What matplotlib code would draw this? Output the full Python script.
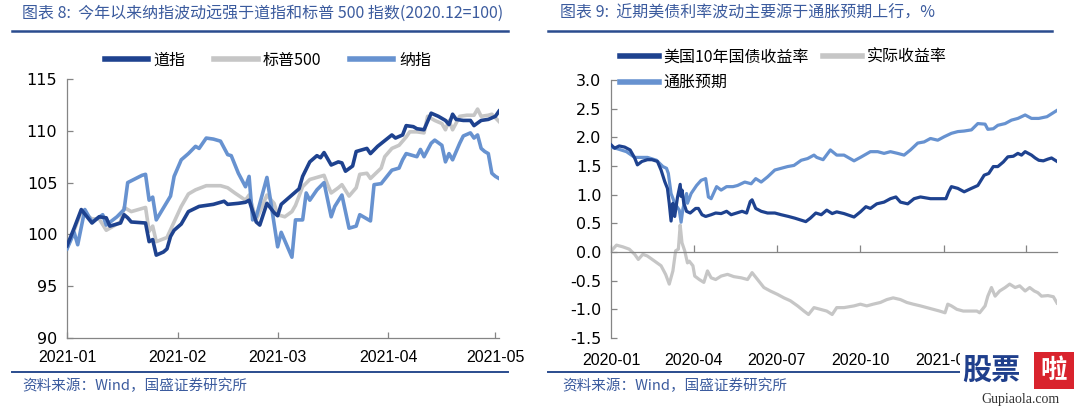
import matplotlib
matplotlib.use("Agg")
import matplotlib.pyplot as plt
import pandas as pd
from matplotlib.lines import Line2D
from matplotlib.patches import Rectangle

plt.rcParams['font.family'] = ['DejaVu Sans', 'Noto Sans CJK SC']
plt.rcParams['axes.unicode_minus'] = False

# ---------------- Left chart data (index, 2020.12 = 100), day offsets from 2021-01-04
eq_base = '2021-01-04'
eq_tick_dates = ['2021-01-04', '2021-02-04', '2021-03-04', '2021-04-04', '2021-05-04']
eq_tick_labels = ['2021-01', '2021-02', '2021-03', '2021-04', '2021-05']
eq_yticks = [90, 95, 100, 105, 110, 115]

dow_days = [0, 2, 4, 7, 9, 11, 12, 15, 16, 17, 18, 22, 23, 24, 25, 27, 28, 29, 30, 32,
            34, 37, 41, 44, 45, 48, 50, 51, 53, 54, 56, 58, 59, 60, 63, 65, 66, 68, 70, 71,
            72, 74, 76, 77, 78, 80, 81, 84, 85, 87, 91, 92, 94, 95, 97, 98, 100, 102, 104, 106,
            107, 108, 109, 111, 113, 114, 116, 118, 120, 121]
dow_vals = [98.9, 100.6, 102.4, 101.1, 101.7, 101.6, 100.8, 101.1, 101.9, 101.6,
            101.2, 101.1, 99.3, 99.5, 98.0, 98.3, 98.6, 99.8, 100.4, 101.0,
            102.2, 102.7, 102.9, 103.2, 102.9, 103.0, 103.1, 103.3, 101.2, 100.9,
            103.0, 102.1, 101.8, 102.9, 103.8, 104.4, 105.6, 107.0, 107.6, 107.4,
            107.9, 106.7, 107.0, 106.9, 106.1, 106.6, 108.0, 108.3, 107.8, 108.5,
            109.6, 109.3, 109.6, 110.5, 110.4, 110.2, 110.1, 111.7, 111.4, 111.0,
            110.6, 111.6, 111.1, 111.0, 111.0, 110.5, 111.0, 111.1, 111.4, 111.9]

spx_days = [0, 2, 4, 7, 9, 11, 13, 15, 16, 18, 20, 22, 23, 24, 25, 28, 30, 32, 34, 36,
            39, 43, 45, 47, 50, 51, 53, 56, 58, 59, 61, 63, 64, 66, 68, 70, 72, 73, 74, 76,
            77, 79, 81, 82, 84, 85, 88, 89, 91, 93, 95, 96, 98, 100, 101, 103, 105, 106, 107, 108,
            110, 112, 114, 115, 116, 118, 119, 121]
spx_vals = [98.7, 100.4, 102.2, 101.5, 101.5, 100.4, 100.8, 101.2, 102.6, 102.2,
            102.4, 102.6, 100.3, 100.8, 99.3, 99.7, 101.2, 102.7, 103.9, 104.3,
            104.7, 104.7, 104.5, 104.0, 103.3, 103.8, 101.4, 103.8, 103.0, 101.9,
            101.7, 102.2, 102.8, 104.6, 105.3, 105.5, 105.7, 104.8, 104.0, 104.5,
            104.8, 103.7, 104.5, 105.8, 105.9, 105.4, 106.4, 107.5, 108.3, 108.6,
            109.4, 109.9, 109.9, 109.8, 111.4, 111.0, 110.7, 110.1, 111.0, 110.1,
            111.4, 111.5, 111.5, 112.1, 111.4, 111.5, 111.6, 110.9]

nas_days = [0, 2, 3, 5, 7, 10, 11, 14, 16, 17, 21, 22, 23, 24, 25, 29, 30, 32, 34, 36,
            37, 39, 41, 43, 45, 46, 48, 50, 51, 52, 53, 56, 57, 59, 60, 63, 64, 66, 67, 68,
            70, 72, 74, 75, 77, 79, 81, 82, 85, 86, 88, 91, 93, 94, 95, 98, 99, 100, 102, 103,
            105, 106, 107, 108, 110, 111, 113, 114, 115, 116, 117, 118, 119, 120, 121]
nas_vals = [98.6, 100.2, 99.0, 102.4, 101.2, 101.9, 100.9, 101.7, 102.4, 105.0,
            105.7, 105.8, 103.3, 103.6, 101.4, 103.7, 105.6, 107.2, 107.8, 108.5,
            108.3, 109.3, 109.2, 109.0, 107.7, 107.6, 105.9, 104.6, 105.6, 101.4,
            101.7, 105.5, 103.3, 98.8, 100.2, 97.8, 101.4, 101.4, 104.0, 103.3,
            104.3, 105.0, 101.7, 102.7, 103.8, 100.6, 100.8, 101.9, 101.3, 104.8,
            104.9, 106.2, 106.4, 107.2, 107.8, 107.5, 108.2, 107.5, 108.8, 109.1,
            108.6, 107.0, 107.8, 107.2, 108.8, 109.5, 109.8, 109.3, 109.6, 108.3,
            108.0, 107.8, 105.9, 105.6, 105.4]

# ---------------- Right chart data (%), day offsets from 2020-01-01
rt_base = '2020-01-01'
rt_tick_dates = ['2020-01-01', '2020-04-01', '2020-07-01', '2020-10-01', '2021-01-01', '2021-04-01']
# the 2021-04 label sits entirely under the source watermark, so it is left blank
rt_tick_labels = ['2020-01', '2020-04', '2020-07', '2020-10', '2021-01', '']
rt_yticks = [-1.5, -1.0, -0.5, 0.0, 0.5, 1.0, 1.5, 2.0, 2.5, 3.0]

ust_days = [0, 4, 9, 15, 21, 26, 29, 34, 40, 45, 51, 55, 59, 62, 64, 66, 68, 70, 73, 76,
            77, 78, 80, 83, 87, 93, 96, 100, 104, 110, 115, 121, 127, 132, 138, 144, 149, 153, 155, 159,
            165, 172, 180, 187, 195, 202, 208, 214, 219, 225, 231, 237, 243, 248, 256, 267, 274, 280, 285, 292,
            300, 307, 313, 318, 326, 333, 340, 351, 359, 368, 371, 374, 381, 388, 396, 403, 410, 415, 420, 425,
            431, 436, 442, 447, 451, 455, 462, 466, 470, 475, 480, 484, 487, 490]
ust_vals = [1.87, 1.81, 1.85, 1.83, 1.78, 1.64, 1.52, 1.58, 1.61, 1.61,
            1.58, 1.43, 1.23, 1.11, 0.85, 0.54, 0.85, 0.62, 0.95, 1.18,
            0.97, 1.08, 0.85, 0.71, 0.68, 0.76, 0.76, 0.65, 0.62, 0.65,
            0.68, 0.67, 0.71, 0.65, 0.68, 0.71, 0.68, 0.88, 0.91, 0.76,
            0.71, 0.68, 0.68, 0.65, 0.62, 0.59, 0.56, 0.53, 0.59, 0.68,
            0.65, 0.73, 0.67, 0.70, 0.67, 0.61, 0.70, 0.79, 0.76, 0.84,
            0.87, 0.93, 0.96, 0.87, 0.84, 0.93, 0.96, 0.93, 0.93, 0.93,
            1.05, 1.14, 1.11, 1.05, 1.11, 1.16, 1.34, 1.37, 1.49, 1.49,
            1.57, 1.66, 1.67, 1.72, 1.69, 1.75, 1.69, 1.64, 1.60, 1.59,
            1.62, 1.64, 1.61, 1.58]

real_days = [1, 6, 13, 20, 26, 30, 35, 40, 48, 55, 60, 64, 68, 71, 74, 76, 78, 81, 84, 86,
             90, 92, 97, 102, 106, 110, 115, 121, 128, 135, 143, 150, 155, 161, 168, 175, 183, 190, 197, 205,
             212, 217, 223, 230, 237, 243, 248, 256, 267, 274, 281, 288, 296, 303, 310, 318, 325, 332, 340, 347,
             354, 361, 367, 370, 374, 380, 387, 394, 402, 405, 411, 414, 418, 422, 427, 433, 438, 444, 449, 455,
             460, 465, 469, 473, 480, 486, 490]
real_vals = [0.03, 0.12, 0.09, 0.05, -0.04, -0.13, -0.04, -0.07, -0.16, -0.24,
             -0.39, -0.56, -0.33, 0.02, 0.05, 0.47, 0.16, 0.02, -0.19, -0.16,
             -0.24, -0.42, -0.48, -0.53, -0.33, -0.45, -0.48, -0.42, -0.39, -0.43,
             -0.45, -0.48, -0.36, -0.48, -0.62, -0.68, -0.74, -0.80, -0.85, -0.94,
             -1.03, -1.09, -0.97, -1.00, -1.03, -1.09, -0.97, -0.97, -0.94, -0.91,
             -0.94, -0.91, -0.88, -0.83, -0.80, -0.83, -0.88, -0.91, -0.94, -0.97,
             -1.00, -1.03, -1.06, -0.91, -0.94, -1.00, -1.03, -1.03, -1.03, -1.06,
             -0.94, -0.77, -0.62, -0.77, -0.68, -0.62, -0.56, -0.62, -0.59, -0.68,
             -0.62, -0.68, -0.71, -0.77, -0.76, -0.78, -0.89]

bei_days = [0, 7, 17, 26, 31, 40, 50, 57, 61, 63, 66, 70, 75, 77, 79, 81, 83, 84, 88, 94,
            99, 104, 107, 110, 116, 121, 127, 134, 139, 147, 154, 159, 165, 172, 180, 187, 194, 201, 209, 216,
            223, 226, 233, 241, 248, 256, 267, 274, 285, 293, 300, 307, 315, 322, 329, 337, 344, 351, 359, 366,
            374, 381, 388, 396, 403, 411, 414, 420, 425, 433, 440, 447, 455, 462, 470, 479, 486, 490]
bei_vals = [1.83, 1.80, 1.75, 1.65, 1.65, 1.65, 1.60, 1.49, 1.46, 1.37,
            1.02, 0.85, 0.73, 0.52, 0.75, 0.90, 1.02, 0.85, 1.02, 1.16,
            1.25, 1.28, 0.96, 0.93, 1.14, 1.08, 1.14, 1.14, 1.16, 1.22,
            1.19, 1.28, 1.22, 1.31, 1.43, 1.46, 1.49, 1.51, 1.60, 1.63,
            1.69, 1.65, 1.61, 1.78, 1.69, 1.69, 1.59, 1.65, 1.75, 1.75,
            1.72, 1.75, 1.72, 1.69, 1.78, 1.90, 1.92, 1.98, 1.95, 2.01,
            2.07, 2.10, 2.11, 2.13, 2.24, 2.23, 2.14, 2.15, 2.21, 2.24,
            2.30, 2.33, 2.39, 2.33, 2.33, 2.36, 2.43, 2.47]

# ---------------- styling
C_DARK = '#1E428F'
C_GRAY = '#C6C6C6'
C_MID = '#6792D0'
C_TITLE = '#3B5B9E'
C_RULE = '#2A4C8E'
C_AX = '#858585'
W, H = 1080, 409
XFONT = ['Liberation Sans', 'DejaVu Sans']
cjk = ['Noto Sans CJK SC', 'DejaVu Sans']

fig = plt.figure(figsize=(W / 100, H / 100), dpi=100)


def fx(px):
    return px / W


def fy(py):
    return 1 - py / H


def day_offsets(dates, base):
    b = pd.Timestamp(base)
    return [(pd.Timestamp(d) - b).days for d in dates]


# ---------------- Left axes
axL = fig.add_axes([fx(67), fy(338), fx(499) - fx(67), fy(79) - fy(338)])
axL.plot(spx_days, spx_vals, color=C_GRAY, lw=2.6, zorder=2)
axL.plot(nas_days, nas_vals, color=C_MID, lw=2.6, zorder=3)
axL.plot(dow_days, dow_vals, color=C_DARK, lw=2.6, zorder=4)
axL.set_xlim(0, 121)
axL.set_ylim(90, 115)
axL.set_yticks(eq_yticks)
axL.set_yticklabels([str(v) for v in eq_yticks])
axL.set_xticks(day_offsets(eq_tick_dates, eq_base))
axL.set_xticklabels(eq_tick_labels, family=XFONT, fontsize=11.5)
for s in ['top', 'right']:
    axL.spines[s].set_visible(False)
for s in ['left', 'bottom']:
    axL.spines[s].set_color(C_AX)
    axL.spines[s].set_linewidth(0.9)
axL.tick_params(axis='both', direction='in', length=4, color=C_AX, width=0.9)
axL.tick_params(axis='x', pad=9)
axL.tick_params(axis='y', labelsize=11.5, pad=7)

# ---------------- Right axes
axR = fig.add_axes([fx(611), fy(338), fx(1057) - fx(611), fy(80) - fy(338)])
axR.plot(real_days, real_vals, color=C_GRAY, lw=2.3, zorder=2)
axR.plot(bei_days, bei_vals, color=C_MID, lw=2.3, zorder=3)
axR.plot(ust_days, ust_vals, color=C_DARK, lw=2.3, zorder=4)
axR.set_xlim(0, 490)
axR.set_ylim(-1.5, 3.0)
axR.set_yticks(rt_yticks)
axR.set_yticklabels([f'{v:.1f}' for v in rt_yticks])
rt_ticks = day_offsets(rt_tick_dates, rt_base)
axR.set_xticks(rt_ticks)
axR.tick_params(axis='x', labelbottom=False, direction='in', length=5, color=C_AX, width=0.9)
axR.spines['bottom'].set_position(('data', 0))
for s in ['top', 'right']:
    axR.spines[s].set_visible(False)
for s in ['left', 'bottom']:
    axR.spines[s].set_color(C_AX)
    axR.spines[s].set_linewidth(0.9)
axR.tick_params(axis='y', direction='in', length=4, color=C_AX, width=0.9, labelsize=11.5, pad=7)
sec = axR.secondary_xaxis(0)
sec.set_xticks(rt_ticks)
sec.set_xticklabels(rt_tick_labels, family=XFONT, fontsize=11.5)
sec.tick_params(length=0, pad=11)
sec.spines['bottom'].set_visible(False)

# ---------------- Legends
legL = [Line2D([], [], color=C_DARK, lw=4), Line2D([], [], color=C_GRAY, lw=4), Line2D([], [], color=C_MID, lw=4)]
fig.legend(legL, ['道指', '标普500', '纳指'], loc='center', bbox_to_anchor=(fx(268), fy(60)),
           ncol=3, frameon=False, handlelength=2.7, columnspacing=1.8,
           handletextpad=0.35, prop={'family': cjk, 'size': 11.5})
legR = [Line2D([], [], color=C_DARK, lw=4), Line2D([], [], color=C_MID, lw=4), Line2D([], [], color=C_GRAY, lw=4)]
fig.legend(legR, ['美国10年国债收益率', '通胀预期', '实际收益率'], loc='upper left',
           bbox_to_anchor=(fx(606), fy(34)), ncol=2, frameon=False, handlelength=2.4,
           columnspacing=0.9, handletextpad=0.3, labelspacing=0.55,
           prop={'family': cjk, 'size': 11.5})

# ---------------- Titles, rules, sources
fig.text(fx(22), fy(13), '图表 8:  今年以来纳指波动远强于道指和标普 500 指数(2020.12=100)',
         family=cjk, fontsize=11.5, color=C_TITLE, style='italic', va='center', ha='left')
fig.text(fx(560), fy(13), '图表 9:  近期美债利率波动主要源于通胀预期上行，%',
         family=cjk, fontsize=11.5, color=C_TITLE, style='italic', va='center', ha='left')
for x0, x1 in [(12, 508), (548, 1052)]:
    fig.add_artist(Line2D([fx(x0), fx(x1)], [fy(31), fy(31)], color=C_RULE, lw=1.8))
    fig.add_artist(Line2D([fx(x0), fx(x1)], [fy(372), fy(372)], color=C_RULE, lw=1.4))
fig.text(fx(22), fy(386), '资料来源：Wind，国盛证券研究所', family=cjk, fontsize=10.5,
         color=C_TITLE, style='italic', va='center', ha='left')
fig.text(fx(562), fy(386), '资料来源：Wind，国盛证券研究所', family=cjk, fontsize=10.5,
         color=C_TITLE, style='italic', va='center', ha='left')

# ---------------- watermark (covers the end of the 2021-01 label, as in the source)
fig.add_artist(Rectangle((fx(960), fy(395)), fx(1078) - fx(960), fy(345) - fy(395),
                         transform=fig.transFigure, facecolor='white', edgecolor='none', zorder=9))
fig.text(fx(962), fy(370), '股票', family=cjk, fontsize=21, fontweight='bold', color='#1F3F8C',
         va='center', ha='left', zorder=10)
fig.add_artist(Rectangle((fx(1034), fy(389)), fx(1074) - fx(1034), fy(352) - fy(389),
                         transform=fig.transFigure, facecolor='#D9232D', edgecolor='none', zorder=10))
fig.text(fx(1054), fy(370), '啦', family=cjk, fontsize=19, fontweight='bold', color='white',
         va='center', ha='center', zorder=11)
fig.text(fx(1020), fy(400), 'Gupiaola.com', family=['Liberation Serif', 'DejaVu Serif'], fontsize=10,
         color='#333333', va='center', ha='center', zorder=11)

fig.savefig('out.png', dpi=100)
